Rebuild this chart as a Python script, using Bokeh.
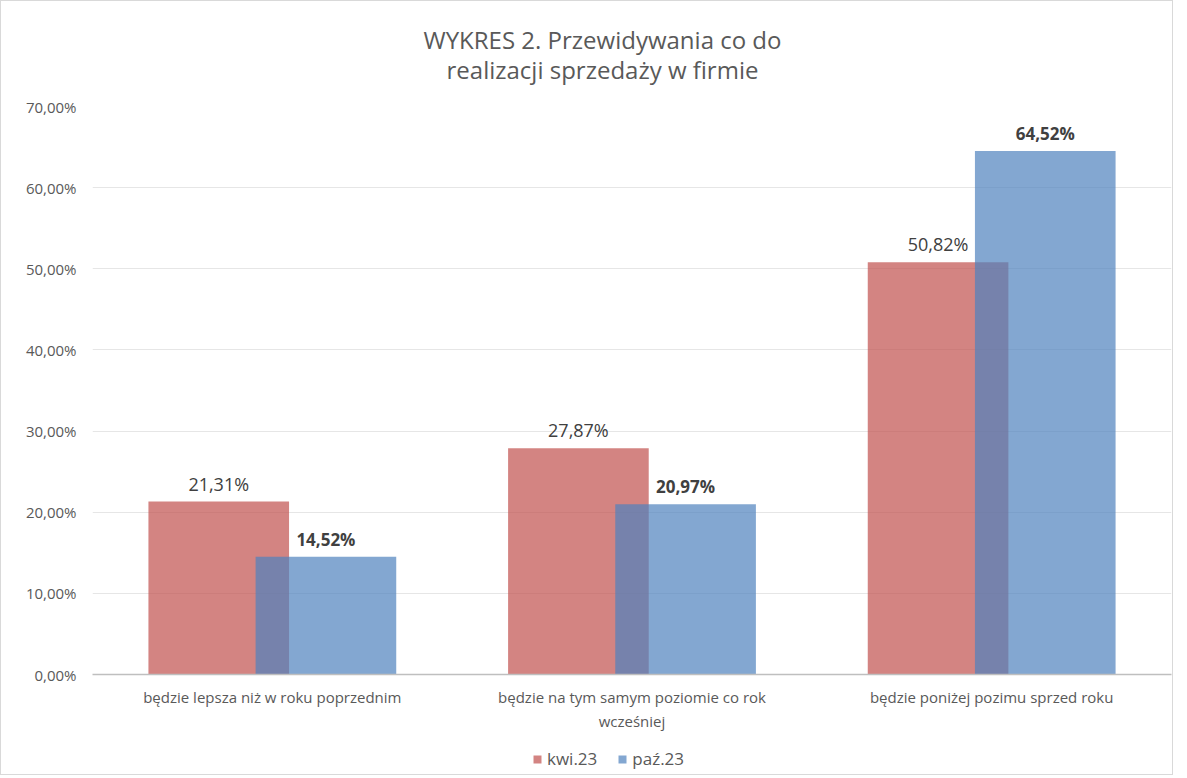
from bokeh.plotting import figure
from bokeh.layouts import column
from bokeh.models import ColumnDataSource, FactorRange, Legend, LegendItem, LabelSet, Div
from bokeh.core.properties import value
from bokeh.transform import dodge
from bokeh.embed import file_html
from bokeh.resources import INLINE

categories = ["będzie lepsza niż w roku poprzednim",
              "będzie na tym samym poziomie co rok\nwcześniej",
              "będzie poniżej pozimu sprzed roku"]
series_names = ["kwi.23", "paź.23"]
kwi23 = [21.31, 27.87, 50.82]
paz23 = [14.52, 20.97, 64.52]
y_ticks = [0, 10, 20, 30, 40, 50, 60, 70]
title_lines = ["WYKRES 2. Przewidywania co do", "realizacji sprzedaży w firmie"]

def fmt(v):
    return ("%.2f%%" % v).replace(".", ",")

src = ColumnDataSource(dict(
    cat=categories, kwi=kwi23, paz=paz23,
    kwi_lab=[fmt(v) for v in kwi23], paz_lab=[fmt(v) for v in paz23],
))

FONT = "Open Sans"
GRAY = "#595959"
RED = "#C0504D"
BLUE = "#4F81BD"
ALPHA = 0.7
W = 1171

# title
title = Div(text="<br>".join(title_lines), width=W, height=90, margin=0,
            styles={"font-family": FONT, "font-size": "24px", "color": GRAY,
                    "text-align": "center", "line-height": "30px",
                    "padding-top": "24px", "padding-left": "32px",
                    "box-sizing": "border-box", "white-space": "nowrap"})

p = figure(x_range=FactorRange(*categories, range_padding=0), y_range=(0, 70),
           width=W, height=653, output_backend="svg", toolbar_location=None,
           min_border_left=91, min_border_right=1, min_border_top=15, min_border_bottom=70)
p.outline_line_color = None

off = 0.149
w = 0.391
r1 = p.vbar(x=dodge("cat", -off, range=p.x_range), top="kwi", width=w, source=src,
            fill_color=RED, fill_alpha=ALPHA, line_color=None)
r2 = p.vbar(x=dodge("cat", off, range=p.x_range), top="paz", width=w, source=src,
            fill_color=BLUE, fill_alpha=ALPHA, line_color=None)

p.add_layout(LabelSet(x=dodge("cat", -off, range=p.x_range), y="kwi", text="kwi_lab", source=src,
                      text_align="center", text_baseline="bottom", y_offset=6,
                      text_font=value(FONT), text_font_size=value("18px"),
                      text_color=value("#404040")))
p.add_layout(LabelSet(x=dodge("cat", off, range=p.x_range), y="paz", text="paz_lab", source=src,
                      text_align="center", text_baseline="bottom", y_offset=6,
                      text_font=value(FONT), text_font_size=value("17px"),
                      text_font_style=value("bold"), text_color=value("#404040")))

# axes
p.yaxis.ticker = y_ticks
p.yaxis.major_label_overrides = {t: fmt(t) for t in y_ticks}
p.yaxis.axis_line_color = None
p.yaxis.major_tick_line_color = None
p.yaxis.minor_tick_line_color = None
p.yaxis.major_label_text_font = FONT
p.yaxis.major_label_text_font_size = "15px"
p.yaxis.major_label_text_color = GRAY
p.yaxis.major_label_standoff = 10

p.xaxis.axis_line_color = "#BFBFBF"
p.xaxis.axis_line_width = 1.5
p.xaxis.major_tick_line_color = None
p.xaxis.minor_tick_line_color = None
p.xaxis.major_label_text_font = FONT
p.xaxis.major_label_text_font_size = "15px"
p.xaxis.major_label_text_color = GRAY
p.xaxis.major_label_standoff = 6

p.xgrid.grid_line_color = None
p.ygrid.grid_line_color = "#E6E6E6"

# legend strip below the plot
lg = figure(width=W, height=30, output_backend="svg", toolbar_location=None,
            x_range=(0, 1), y_range=(0, 1), min_border=0,
            x_axis_location=None, y_axis_location=None)
lg.grid.visible = False
lg.outline_line_color = None
nan = float("nan")
e1 = lg.vbar(x=[nan], top=[nan], width=0.1, fill_color=RED, fill_alpha=ALPHA, line_color=None)
e2 = lg.vbar(x=[nan], top=[nan], width=0.1, fill_color=BLUE, fill_alpha=ALPHA, line_color=None)
legend = Legend(items=[LegendItem(label=series_names[0], renderers=[e1]),
                       LegendItem(label=series_names[1], renderers=[e2])],
                orientation="horizontal", location=(440, 4),
                border_line_color=None, background_fill_alpha=0,
                label_text_font=FONT, label_text_font_size="17px", label_text_color=GRAY,
                glyph_width=10, glyph_height=10, spacing=20, padding=2, label_standoff=5)
lg.add_layout(legend, "center")

layout = column(title, p, lg, spacing=0)
layout.styles = {"border": "1px solid #d9d9d9"}

open("out.html", "w").write(file_html(layout, INLINE))
